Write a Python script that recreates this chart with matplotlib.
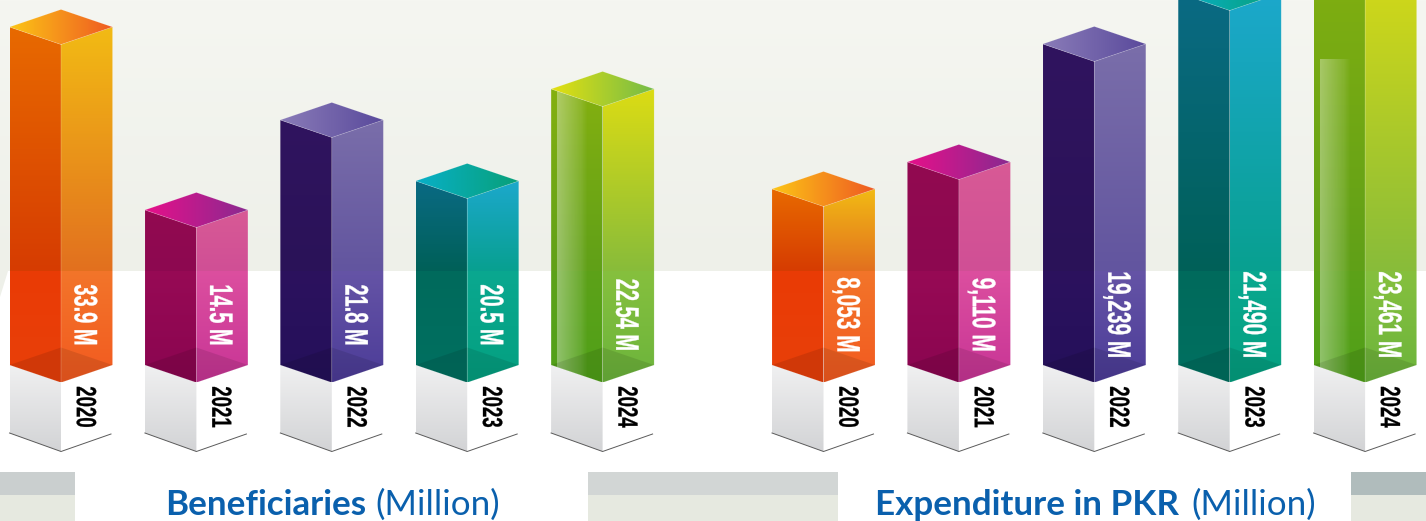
import numpy as np
import matplotlib
matplotlib.use("Agg")
import matplotlib.pyplot as plt
from matplotlib.colors import to_rgb
from matplotlib.patches import Polygon, Rectangle
from matplotlib.patheffects import AbstractPathEffect
from matplotlib.transforms import Affine2D

# ---------- data ----------
years = ["2020", "2021", "2022", "2023", "2024"]
beneficiaries = ["33.9", "14.5", "21.8", "20.5", "22.54"]
expenditure = [8053, 9110, 19239, 21490, 23461]
# the infographic's bars are pictorial: their drawn heights do not follow the labels
beneficiaries_bar_heights = [338, 155, 245, 184, 276]
expenditure_bar_heights = [176, 203, 321, 372, 425]

# ---------- style ----------
FACE_STOPS = [
    dict(left=["#e86a00", "#d63c02", "#ea3b05", "#e8400a"],
         right=["#f2bb14", "#e2701f", "#f2752a", "#f25a20"],
         top=["#fcc516", "#ef5a22"]),
    dict(left=["#920a50", "#8d0850", "#970a55", "#8a0550"],
         right=["#d85a96", "#d04f95", "#dc4f9f", "#c83596"],
         top=["#e6108a", "#8a2a90"]),
    dict(left=["#30145f", "#2a1258", "#2c125e", "#24105a"],
         right=["#7a6eaa", "#62559f", "#6554a6", "#4c3c98"],
         top=["#8a7cb8", "#5a4a9c"]),
    dict(left=["#0a6a84", "#006058", "#006a5c", "#007060"],
         right=["#1ca8cc", "#08a090", "#0aa890", "#04a080"],
         top=["#08b0c8", "#08a078"]),
    dict(left=["#84b010", "#60a018", "#5da218", "#50a018"],
         right=["#dcdc14", "#88bc3a", "#86c03e", "#6cb43c"],
         top=["#e4e010", "#74bc48"]),
]
W, H = 1426, 521
BASE_PX = 365          # pixel row of the zero line of the bar scale
BAND_LEVEL = BASE_PX - 271
HALF_W = 51.5
DEPTH = 17.5
STEP = 135.4
VALUE_CENTER = BASE_PX - 315
YEAR_CENTER = BASE_PX - 407
TITLE_BLUE = "#0a60ad"
NARROW = ["Liberation Sans Narrow", "Liberation Sans", "DejaVu Sans"]


class Tall(AbstractPathEffect):
    """Draw real text stretched across its baseline (a condensed display face)."""
    def __init__(self, sy=1.0, stroke=0.0):
        super().__init__()
        self.sy = sy
        self.stroke = stroke

    def draw_path(self, renderer, gc, tpath, affine, rgbFace=None):
        mid = tpath.get_extents().y1 / 2
        t = Affine2D().translate(0, -mid).scale(1, self.sy).translate(0, mid) + affine
        g = renderer.new_gc()
        g.copy_properties(gc)
        if self.stroke:
            g.set_foreground(rgbFace)
            g.set_linewidth(self.stroke)
        renderer.draw_path(g, tpath, t, rgbFace)
        g.restore()


fig = plt.figure(figsize=(W / 100, H / 100), dpi=100, facecolor="white")
ax = fig.add_axes([0, 0, 1, 1])
ax.set_axis_off()
ax.set_xlim(0, W)
ax.set_ylim(BASE_PX - H, BASE_PX)


def lerp(c0, c1, t):
    a, b = np.array(to_rgb(c0)), np.array(to_rgb(c1))
    return a + (b - a) * np.asarray(t)[..., None]


def vertical(stops, y_top, y_mid, y_bot, z, clip=None, extent_x=None):
    ys = np.arange(y_top, y_bot, -1.0)
    rows = np.zeros((len(ys), 1, 3))
    for i, y in enumerate(ys):
        if y_mid is None:
            rows[i, 0] = lerp(stops[0], stops[-1], (y_top - y) / (y_top - y_bot))
        elif y >= y_mid:
            rows[i, 0] = lerp(stops[0], stops[1], (y_top - y) / max(y_top - y_mid, 1))
        else:
            rows[i, 0] = lerp(stops[2], stops[3], (y_mid - y) / max(y_mid - y_bot, 1))
    im = ax.imshow(rows, extent=[extent_x[0], extent_x[1], y_bot, y_top],
                   aspect="auto", interpolation="nearest", zorder=z)
    if clip is not None:
        im.set_clip_path(clip)
    return im


def horizontal(c0, c1, x0, x1, y0, y1, z, clip):
    t = np.linspace(0, 1, 64)
    arr = lerp(c0, c1, t)[None, :, :]
    im = ax.imshow(arr, extent=[x0, x1, y0, y1], aspect="auto",
                   interpolation="bilinear", zorder=z)
    im.set_clip_path(clip)


def poly(pts, z=3, **kw):
    p = Polygon(pts, closed=True, transform=ax.transData, zorder=z, **kw)
    ax.add_patch(p)
    return p


def draw_bar(x, h, cols, value_text, year_text, sheen_top=None, value_size=14.6):
    m, r = x + HALF_W, x + 2 * HALF_W
    # pedestal
    ped_left = [(x, 0), (m, -DEPTH), (m, -86.5), (x, -68)]
    clip = poly(ped_left, facecolor="none", edgecolor="none")
    vertical(["#f0f0f1", "#d2d3d5"], 0, None, -87, 2, clip, (x, m))
    ax.plot([x, m, r - 1.5], [-68, -86.5, -69], color="#5a5a5a", lw=0.7, zorder=3)
    # faces
    lf = [(x, h), (m, h - DEPTH), (m, -DEPTH), (x, 0)]
    rf = [(m, h - DEPTH), (r, h), (r, 0), (m, -DEPTH)]
    tf = [(x, h), (m, h + DEPTH), (r, h), (m, h - DEPTH)]
    clip = poly(lf, facecolor="none", edgecolor="none")
    vertical(cols["left"], h, BAND_LEVEL, -DEPTH, 4, clip, (x, m))
    clip_r = poly(rf, facecolor="none", edgecolor="none")
    vertical(cols["right"], h, BAND_LEVEL, -DEPTH, 4, clip_r, (m, r))
    clip_t = poly(tf, facecolor="none", edgecolor="none")
    horizontal(cols["top"][0], cols["top"][1], x, r, h - DEPTH, h + DEPTH, 4, clip_t)
    # glass sheen on the green bars
    if sheen_top is not None:
        sx0, sx1 = x + 6, x + 37
        arr = np.ones((1, 64, 4))
        arr[..., 3] = np.concatenate([np.linspace(0.36, 0.12, 48), np.linspace(0.12, 0, 16)])
        im = ax.imshow(arr, extent=[sx0, sx1, -DEPTH, sheen_top], aspect="auto",
                       interpolation="bilinear", zorder=5)
        im.set_clip_path(clip)
    # floor reflection and fine light edges
    poly([(x, 0), (m, DEPTH), (r, 0), (m, -DEPTH)], z=6, facecolor="black",
         alpha=0.1, edgecolor="none")
    for pts in (lf, rf, tf):
        poly(pts, z=7, facecolor="none", edgecolor="white", alpha=0.14, lw=0.5)
    # labels
    tx = x + 75
    t = ax.text(tx, VALUE_CENTER, value_text, color="white", rotation=270,
                ha="center", va="center", fontsize=value_size, fontweight="bold",
                family=NARROW, zorder=8)
    t.set_path_effects([Tall(23.5 / value_size, stroke=0.25)])
    t = ax.text(tx, YEAR_CENTER, year_text, color="black", rotation=270,
                ha="center", va="center", fontsize=13.4, fontweight="bold",
                family=NARROW, zorder=8)
    t.set_path_effects([Tall(20 / 13.4, stroke=0.2)])


# background band, white below it
ys = np.arange(BASE_PX, BAND_LEVEL, -1.0)
band = lerp("#f5f6f1", "#eef0e9", (BASE_PX - ys) / (BASE_PX - BAND_LEVEL))[:, None, :]
ax.imshow(band, extent=[0, W, BAND_LEVEL, BASE_PX], aspect="auto",
          interpolation="nearest", zorder=0)
poly([(0, BAND_LEVEL), (8, BAND_LEVEL), (0, BAND_LEVEL - 26)], z=0.5,
     facecolor="#eef0e9", edgecolor="none")

# footer blocks
for x0, x1, c in [(0, 75, "#cacfcf"), (588, 838, "#d2d6d5"), (1351, W, "#b0bcbc")]:
    ax.add_patch(Rectangle((x0, BASE_PX - 495), x1 - x0, 23, facecolor=c, edgecolor="none", zorder=1))
    ax.add_patch(Rectangle((x0, BASE_PX - H), x1 - x0, 26, facecolor="#e6e9e0", edgecolor="none", zorder=1))

# bars
for i, yr in enumerate(years):
    draw_bar(9.5 + i * STEP, beneficiaries_bar_heights[i], FACE_STOPS[i],
             f"{beneficiaries[i]} M", yr,
             sheen_top=beneficiaries_bar_heights[i] if i == 4 else None, value_size=14.4)
    draw_bar(772 + i * STEP, expenditure_bar_heights[i], FACE_STOPS[i],
             f"{expenditure[i]:,} M", yr,
             sheen_top=BASE_PX - 60 if i == 4 else None, value_size=15.0)

# titles
tb = BASE_PX - 515
for x, s, w in [(165, "Beneficiaries", "bold"), (375, "(Million)", "normal"),
                (875, "Expenditure in PKR", "bold"), (1191, "(Million)", "normal")]:
    ax.text(x, tb, s, color=TITLE_BLUE, fontsize=25.2, fontweight=w,
            family=["Lato", "Open Sans", "DejaVu Sans"], ha="left", va="baseline", zorder=8)

ax.set_xlim(0, W)
ax.set_ylim(BASE_PX - H, BASE_PX)
fig.savefig("out.png", dpi=100, facecolor="white")
